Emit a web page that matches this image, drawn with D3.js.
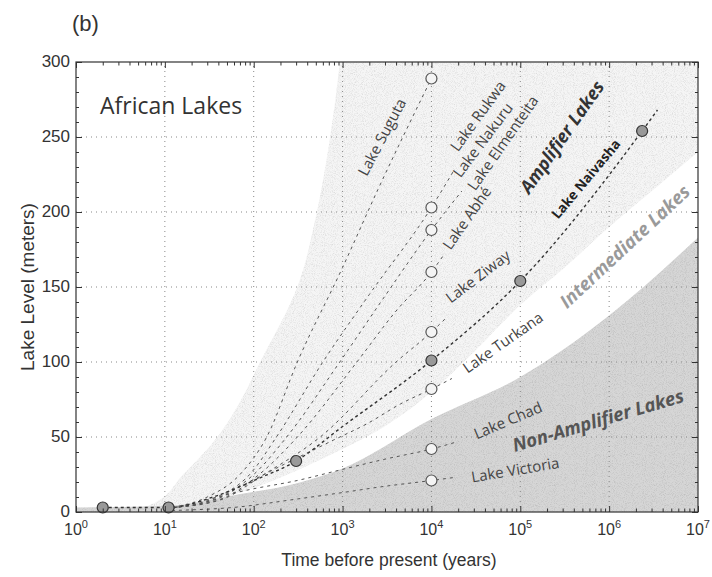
<!DOCTYPE html>
<html>
<head>
<meta charset="utf-8">
<script src="https://cdn.jsdelivr.net/npm/d3@7"></script>
<style>
    body { margin: 0; background: #fff; }
    svg text { font-family: "Liberation Sans", Arial, sans-serif; }
    .note { font-family: "Open Sans", "Noto Sans", sans-serif; }
</style>
</head>
<body>
<div id="chart"></div>
<script>
// each lake: [years before present, lake level in meters]
const sugutaLine = [[12, 3], [30, 10], [70, 25], [140, 50], [310, 100], [1000, 163], [2500, 215], [10000, 289]];
const rukwaLine = [[12, 3], [35, 9], [90, 25], [180, 50], [600, 100], [2000, 145], [10000, 203], [18000, 228]];
const elmenteitaLine = [[12, 3], [38, 9], [100, 25], [235, 50], [930, 100], [3000, 144], [10000, 188], [22000, 214]];
const abheLine = [[12, 3], [40, 8], [115, 25], [310, 50], [1450, 100], [4000, 134], [10000, 160], [14000, 172]];
const ziwayLine = [[12, 3], [42, 8], [130, 25], [560, 50], [4000, 100], [10000, 120], [15000, 130]];
const naivashaLine = [[2, 3], [11, 3], [35, 10], [110, 22], [300, 34], [1000, 57], [10000, 101], [100000, 154], [2350000, 254], [3500000, 268]];
const turkanaLine = [[12, 3], [40, 9], [71, 17], [141, 26], [331, 37], [794, 48], [1905, 59], [4467, 72], [10000, 82], [17000, 89]];
const chadLine = [[12, 2], [91, 15], [309, 21], [933, 28], [2884, 35], [10000, 42], [20000, 47]];
const victoriaLine = [[12, 1], [71, 3.5], [257, 8], [933, 12.7], [2884, 17], [10000, 21], [18000, 23]];

const amplifierLines = [sugutaLine, rukwaLine, elmenteitaLine, abheLine, ziwayLine, turkanaLine, chadLine, victoriaLine];

// dated lake levels
const openPoints = [[10000, 289], [10000, 203], [10000, 188], [10000, 160], [10000, 120], [10000, 82], [10000, 42], [10000, 21]];
const filledPoints = [[2, 3], [11, 3], [300, 34], [10000, 101], [100000, 154], [2350000, 254]];

// zone boundaries
const amplifierLeft = [[4, 0], [7, 5], [16, 25], [39, 50], [62, 68], [118, 100], [309, 150], [513, 200], [724, 250], [933, 300]];
const amplifierLow = [[10, 0], [32, 7], [100, 16], [316, 28], [1000, 42], [3162, 58], [10000, 80], [31623, 108], [100000, 138], [316228, 163], [1000000, 190], [3162278, 215], [10000000, 240]];
const nonAmplifierTop = [[1, 3], [10, 4], [71, 12], [300, 19], [1000, 29], [10000, 62], [100000, 90], [1000000, 131], [10000000, 183]];

const xTicks = [1, 10, 100, 1000, 10000, 100000, 1000000, 10000000];
const xExponents = ["0", "1", "2", "3", "4", "5", "6", "7"];
const yTicks = [0, 50, 100, 150, 200, 250, 300];

// text on the plot: [label, years, meters, angle]
const lakeNames = [
    ["Lake Suguta", 2780, 250, -62],
    ["Lake Rukwa", 33400, 264, -54],
    ["Lake Nakuru", 38000, 248, -53],
    ["Lake Elmenteita", 63800, 246, -55],
    ["Lake Abhé", 25100, 196, -55],
    ["Lake Ziway", 33400, 157, -37],
    ["Lake Turkana", 63800, 113, -35],
    ["Lake Chad", 72700, 61, -23],
    ["Lake Victoria", 87600, 28, -9.5]
];

const width = 712, height = 577;
const marginLeft = 76, marginRight = 14, marginTop = 62, marginBottom = 65;

const x = d3.scaleLog([1, 1e7], [marginLeft, width - marginRight]);
const y = d3.scaleLinear([0, 300], [height - marginBottom, marginTop]);

const svg = d3.select("#chart").append("svg")
    .attr("width", width)
    .attr("height", height)
    .attr("viewBox", [0, 0, width, height]);

const defs = svg.append("defs");
defs.append("clipPath").attr("id", "plot")
    .append("rect")
    .attr("x", x(1)).attr("y", y(300))
    .attr("width", x(1e7) - x(1)).attr("height", y(0) - y(300));

// stipple grain for the shaded zones
const grain = defs.append("filter").attr("id", "grain")
    .attr("x", 0).attr("y", 0).attr("width", 1).attr("height", 1);
grain.append("feTurbulence")
    .attr("type", "fractalNoise")
    .attr("baseFrequency", 1.1)
    .attr("numOctaves", 1)
    .attr("seed", 4)
    .attr("result", "noise");
grain.append("feColorMatrix")
    .attr("in", "noise")
    .attr("type", "matrix")
    .attr("values", "0 0 0 0 0  0 0 0 0 0  0 0 0 0 0  0.6 0 0 0 -0.27")
    .attr("result", "dots");
grain.append("feComposite")
    .attr("in", "dots")
    .attr("in2", "SourceGraphic")
    .attr("operator", "atop");

const zones = svg.append("g").attr("clip-path", "url(#plot)");

// amplifier zone fills everything, then white is cut back in
zones.append("rect")
    .attr("x", x(1)).attr("y", y(300))
    .attr("width", x(1e7) - x(1)).attr("height", y(0) - y(300))
    .attr("fill", "#f5f5f5")
    .attr("filter", "url(#grain)");

zones.append("path")
    .datum(amplifierLeft)
    .attr("fill", "#fff")
    .attr("d", d3.area()
        .x0(x(1) - 2)
        .x1(d => x(d[0]))
        .y(d => y(d[1]))
        .curve(d3.curveMonotoneY));

zones.append("path")
    .datum(amplifierLow)
    .attr("fill", "#fff")
    .attr("d", d3.area()
        .x(d => x(d[0]))
        .y0(y(0) + 2)
        .y1(d => y(d[1]))
        .curve(d3.curveMonotoneX));

zones.append("path")
    .datum(nonAmplifierTop)
    .attr("fill", "#d6d6d6")
    .attr("filter", "url(#grain)")
    .attr("d", d3.area()
        .x(d => x(d[0]))
        .y0(y(0) + 2)
        .y1(d => y(d[1]))
        .curve(d3.curveMonotoneX));

// dotted grid
const grid = svg.append("g")
    .attr("stroke", "#888")
    .attr("stroke-width", 1)
    .attr("stroke-dasharray", "1,4");
grid.selectAll(".gx")
    .data(xTicks.slice(1, -1))
    .join("line")
    .attr("x1", d => x(d)).attr("x2", d => x(d))
    .attr("y1", y(0)).attr("y2", y(300));
grid.selectAll(".gy")
    .data(yTicks.slice(1, -1))
    .join("line")
    .attr("x1", x(1)).attr("x2", x(1e7))
    .attr("y1", d => y(d)).attr("y2", d => y(d));

// dashed lake trajectories
const line = d3.line()
    .x(d => x(d[0]))
    .y(d => y(d[1]))
    .curve(d3.curveMonotoneX);

svg.append("g")
    .attr("clip-path", "url(#plot)")
    .attr("fill", "none")
    .attr("stroke", "#555")
    .attr("stroke-width", 1)
    .attr("stroke-dasharray", "3,4")
    .selectAll("path")
    .data(amplifierLines)
    .join("path")
    .attr("d", line);

svg.append("path")
    .datum(naivashaLine)
    .attr("clip-path", "url(#plot)")
    .attr("fill", "none")
    .attr("stroke", "#333")
    .attr("stroke-width", 1.4)
    .attr("stroke-dasharray", "3,3")
    .attr("d", line);

svg.append("g")
    .selectAll("circle")
    .data(openPoints)
    .join("circle")
    .attr("cx", d => x(d[0]))
    .attr("cy", d => y(d[1]))
    .attr("r", 5.5)
    .attr("fill", "#f4f4f4")
    .attr("stroke", "#555")
    .attr("stroke-width", 1.2);

svg.append("g")
    .selectAll("circle")
    .data(filledPoints)
    .join("circle")
    .attr("cx", d => x(d[0]))
    .attr("cy", d => y(d[1]))
    .attr("r", 5.5)
    .attr("fill", "#999")
    .attr("stroke", "#333")
    .attr("stroke-width", 1.2);

// lake names along their lines
svg.append("g")
    .selectAll("text")
    .data(lakeNames)
    .join("text")
    .attr("class", "note")
    .attr("transform", d => `translate(${x(d[1])},${y(d[2])}) rotate(${d[3]})`)
    .attr("text-anchor", "middle")
    .attr("dy", "0.35em")
    .attr("font-size", 15)
    .attr("fill", "#444")
    .text(d => d[0]);

const zoneNote = (label, t, v, angle, size, color, italic) => svg.append("text")
    .attr("class", "note")
    .attr("transform", `translate(${x(t)},${y(v)}) rotate(${angle})`)
    .attr("text-anchor", "middle")
    .attr("dy", "0.35em")
    .attr("font-size", size)
    .attr("font-weight", "bold")
    .attr("font-style", italic ? "italic" : "normal")
    .attr("fill", color)
    .text(label);

zoneNote("Lake Naivasha", 550000, 222, -50, 13.5, "#222", false);
zoneNote("Amplifier Lakes", 295000, 250, -55, 18, "#333", true);
zoneNote("Intermediate Lakes", 1500000, 177, -43, 18.5, "#9a9a9a", true);
zoneNote("Non-Amplifier Lakes", 750000, 61, -16.5, 18.5, "#555", true);

svg.append("text")
    .attr("class", "note")
    .attr("x", 100).attr("y", 114)
    .attr("font-size", 23)
    .attr("fill", "#333")
    .text("African Lakes");

// axes: ticks point inward, matlab style
const minorX = [];
xTicks.slice(0, -1).forEach(t => [2, 3, 4, 5, 6, 7, 8, 9].forEach(k => minorX.push(t * k)));
const minorY = d3.range(0, 301, 10).filter(v => v % 50 !== 0);

const tickStyle = g => g.call(g => g.select(".domain").remove())
    .call(g => g.selectAll(".tick line").attr("stroke", "#333"));

svg.append("g").attr("transform", `translate(0,${y(0)})`)
    .call(d3.axisBottom(x).tickValues(xTicks).tickSize(-6).tickFormat("")).call(tickStyle);
svg.append("g").attr("transform", `translate(0,${y(0)})`)
    .call(d3.axisBottom(x).tickValues(minorX).tickSize(-3.5).tickFormat("")).call(tickStyle);
svg.append("g").attr("transform", `translate(0,${y(300)})`)
    .call(d3.axisTop(x).tickValues(xTicks).tickSize(-6).tickFormat("")).call(tickStyle);
svg.append("g").attr("transform", `translate(0,${y(300)})`)
    .call(d3.axisTop(x).tickValues(minorX).tickSize(-3.5).tickFormat("")).call(tickStyle);
svg.append("g").attr("transform", `translate(${x(1)},0)`)
    .call(d3.axisLeft(y).tickValues(yTicks).tickSize(-6).tickFormat("")).call(tickStyle);
svg.append("g").attr("transform", `translate(${x(1)},0)`)
    .call(d3.axisLeft(y).tickValues(minorY).tickSize(-3).tickFormat("")).call(tickStyle);
svg.append("g").attr("transform", `translate(${x(1e7)},0)`)
    .call(d3.axisRight(y).tickValues(yTicks).tickSize(-6).tickFormat("")).call(tickStyle);
svg.append("g").attr("transform", `translate(${x(1e7)},0)`)
    .call(d3.axisRight(y).tickValues(minorY).tickSize(-3).tickFormat("")).call(tickStyle);

svg.append("rect")
    .attr("x", x(1)).attr("y", y(300))
    .attr("width", x(1e7) - x(1)).attr("height", y(0) - y(300))
    .attr("fill", "none")
    .attr("stroke", "#333")
    .attr("stroke-width", 1.2);

// tick labels
const xl = svg.append("g")
    .selectAll("text")
    .data(xTicks)
    .join("text")
    .attr("x", d => x(d))
    .attr("y", y(0) + 23)
    .attr("text-anchor", "middle")
    .attr("font-size", 16)
    .attr("fill", "#333");
xl.append("tspan").text("10");
xl.append("tspan")
    .attr("dy", -7)
    .attr("font-size", 11)
    .text((d, i) => xExponents[i]);

svg.append("g")
    .selectAll("text")
    .data(yTicks)
    .join("text")
    .attr("x", x(1) - 6)
    .attr("y", d => y(d))
    .attr("dy", "0.32em")
    .attr("text-anchor", "end")
    .attr("font-size", 17)
    .attr("fill", "#333")
    .text(d => d);

svg.append("text")
    .attr("transform", `translate(34,287) rotate(-90)`)
    .attr("text-anchor", "middle")
    .attr("font-size", 19)
    .attr("fill", "#333")
    .text("Lake Level (meters)");

svg.append("text")
    .attr("x", 389).attr("y", 566)
    .attr("text-anchor", "middle")
    .attr("font-size", 17.5)
    .attr("fill", "#333")
    .text("Time before present (years)");

svg.append("text")
    .attr("x", 72).attr("y", 31)
    .attr("font-size", 22)
    .attr("fill", "#333")
    .text("(b)");
</script>
</body>
</html>
